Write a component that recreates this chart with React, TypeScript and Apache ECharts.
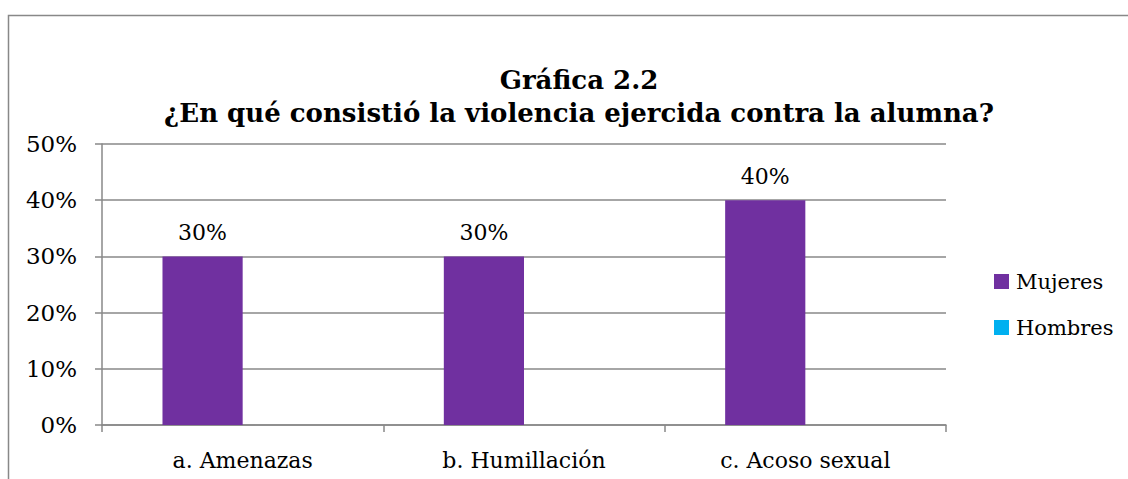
import React, { useEffect, useRef } from "react";
import * as echarts from "echarts";

const titleLines = ["Gráfica 2.2", "¿En qué consistió la violencia ejercida contra la alumna?"];
const categories = ["a. Amenazas", "b. Humillación", "c. Acoso sexual"];
const mujeres = [30, 30, 40];
const hombres = [0, 0, 0];
const seriesNames = ["Mujeres", "Hombres"];
const yMin = 0;
const yMax = 50;
const yInterval = 10;

const FONT = "DejaVu Serif";

export default function App() {
  const ref = useRef<HTMLDivElement>(null);
  useEffect(() => {
    if (!ref.current) return;
    const chart = echarts.init(ref.current, null, { renderer: "svg" });
    chart.setOption({
      animation: false,
      backgroundColor: "#ffffff",
      textStyle: { fontFamily: FONT, color: "#000" },
      graphic: [
        {
          type: "rect",
          shape: { x: 8.5, y: 15.5, width: 1200, height: 600 },
          style: { fill: "none", stroke: "#888888", lineWidth: 1.5 },
          silent: true,
        },
      ],
      title: {
        text: titleLines.join("\n"),
        left: 574,
        top: 58,
        textAlign: "center",
        textStyle: {
          fontFamily: FONT,
          fontWeight: "bold",
          fontSize: 26,
          lineHeight: 33,
          color: "#000",
        },
      },
      legend: {
        orient: "vertical",
        left: 989,
        top: 266,
        itemWidth: 15,
        itemHeight: 15,
        itemGap: 25,
        icon: "rect",
        data: seriesNames,
        textStyle: { fontFamily: FONT, fontSize: 21, color: "#000", padding: [0, 0, 0, 2] },
      },
      grid: { left: 102, right: 182, top: 144, bottom: 54, containLabel: false },
      xAxis: {
        type: "category",
        data: categories,
        axisLine: { lineStyle: { color: "#888888", width: 1.5 } },
        axisTick: { show: true, length: 7, lineStyle: { color: "#888888", width: 1.5 } },
        axisLabel: { fontFamily: FONT, fontSize: 22, color: "#000", margin: 24 },
      },
      yAxis: {
        type: "value",
        min: yMin,
        max: yMax,
        interval: yInterval,
        axisLine: { show: true, lineStyle: { color: "#888888", width: 1.5 } },
        axisTick: { show: true, length: 7, lineStyle: { color: "#888888", width: 1.5 } },
        splitLine: { lineStyle: { color: "#888888", width: 1.5 } },
        axisLabel: { fontFamily: FONT, fontSize: 23, color: "#000", margin: 25, formatter: "{value}%" },
      },
      series: [
        {
          name: seriesNames[0],
          type: "bar",
          data: mujeres,
          barGap: "0%",
          barCategoryGap: "43%",
          itemStyle: { color: "#7030A0" },
          label: {
            show: true,
            position: "top",
            distance: 13,
            formatter: "{c}%",
            fontFamily: FONT,
            fontSize: 22,
            color: "#000",
          },
        },
        {
          name: seriesNames[1],
          type: "bar",
          data: hombres,
          barGap: "0%",
          barCategoryGap: "43%",
          itemStyle: { color: "#00B0F0" },
        },
      ],
    });
    return () => chart.dispose();
  }, []);
  return (
    <div
      ref={ref}
      style={{ position: "fixed", left: 0, top: 0, width: 1128, height: 479 }}
    />
  );
}
